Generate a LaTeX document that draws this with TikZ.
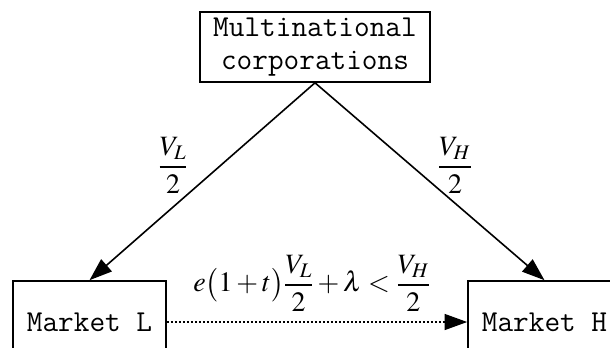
\documentclass[tikz,border=0pt]{standalone}
\usepackage{amsmath}
\usepackage{mathptmx}
\usepackage[no-math]{fontspec}
\usetikzlibrary{positioning, arrows.meta}

\begin{document}
\begin{tikzpicture}[
    x=0.75pt, y=-0.75pt,
    >={Triangle[length=17pt, width=12pt]},
    line width=1.2pt,
    box/.style={
        draw=black, rectangle, align=center,
        font=\fontsize{22.8}{24.75}\selectfont\ttfamily,
        inner sep=0pt
    },
    market/.style={box, minimum width=114.75pt, minimum height=61.5pt},
    arrow/.style={->, draw=black},
    flow/.style={->, draw=black, dash pattern=on 1.5pt off 1.5pt},
    share/.style={font=\fontsize{21}{24}\selectfont}
]
\useasboundingbox (0,0) rectangle (610,347);

% Nodes
\node[box, minimum width=172.5pt, minimum height=52.5pt] (corp) at (315,47)
    {Multinational\\corporations};
\node[market] (mktL) at (89.5,322) {Market L};
\node[market] (mktH) at (544.5,322) {Market H};

% Arrows
\draw[arrow] (corp.south) -- (mktL.north);
\draw[arrow] (corp.south) -- (mktH.north);
\draw[flow] (mktL.east) -- (mktH.west);

% Labels
\node[share] (shareL) at (173,165) {$\dfrac{V_L}{2}$};
\node[share] (shareH) at (455,165) {$\dfrac{V_H}{2}$};
\node[share] (cond) at (312,283)
    {$e\bigl(1+t\bigr)\dfrac{V_L}{2}+\lambda<\dfrac{V_H}{2}$};

\end{tikzpicture}
\end{document}
